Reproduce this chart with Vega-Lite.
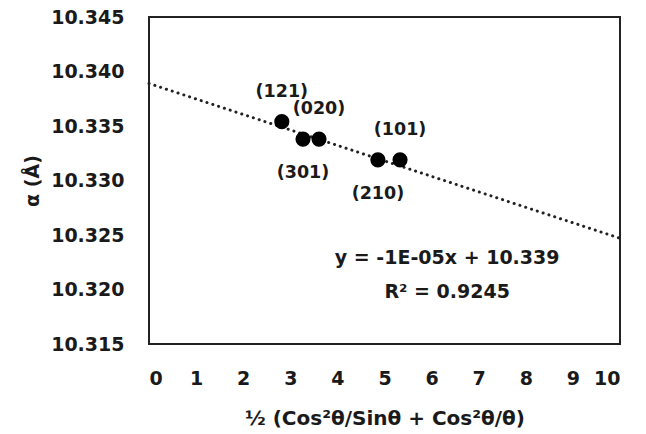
{
  "$schema": "https://vega.github.io/schema/vega-lite/v6.json",
  "autosize": "none",
  "width": 471,
  "height": 327,
  "padding": {"left": 149, "top": 17, "right": 26, "bottom": 90},
  "background": "white",
  "config": {
    "view": {"stroke": "#222222", "strokeWidth": 2},
    "font": "DejaVu Sans",
    "axis": {"grid": false, "ticks": false, "domain": false, "labelFont": "DejaVu Sans", "labelFontWeight": "bold", "labelColor": "#1a1a1a", "titleFont": "DejaVu Sans", "titleFontWeight": "bold", "titleColor": "#1a1a1a"}
  },
  "datasets": {
    "points": [
      {"x": 2.82, "a": 10.3354, "plane": "(121)", "side": "above"},
      {"x": 3.27, "a": 10.3338, "plane": "(301)", "side": "below"},
      {"x": 3.61, "a": 10.3338, "plane": "(020)", "side": "above"},
      {"x": 4.86, "a": 10.3319, "plane": "(210)", "side": "below"},
      {"x": 5.33, "a": 10.3319, "plane": "(101)", "side": "above"}
    ],
    "trend": [
      {"x": 0, "a": 10.3389},
      {"x": 10, "a": 10.3247}
    ],
    "notes": [
      {"x": 6.33, "a": 10.3229, "text": "y = -1E-05x + 10.339"},
      {"x": 6.33, "a": 10.3198, "text": "R² = 0.9245"}
    ]
  },
  "encoding": {
    "x": {"field": "x", "type": "quantitative", "scale": {"domain": [0, 10], "nice": false},
      "axis": {"values": [0,1,2,3,4,5,6,7,8,9,10], "labelFontSize": 19, "labelPadding": 25, "title": "½ (Cos²θ/Sinθ + Cos²θ/θ)", "titleFontSize": 20, "titlePadding": 20}},
    "y": {"field": "a", "type": "quantitative", "scale": {"domain": [10.315, 10.345], "nice": false, "zero": false},
      "axis": {"values": [10.315, 10.32, 10.325, 10.33, 10.335, 10.34, 10.345], "format": ".3f", "labelFontSize": 19, "labelPadding": 25, "title": "α (Å)", "titleFontSize": 19, "titlePadding": 8}}
  },
  "layer": [
    {
      "data": {"name": "trend"},
      "mark": {"type": "line", "color": "#222222", "strokeWidth": 3, "strokeDash": [0.1, 6], "strokeCap": "round"}
    },
    {
      "data": {"name": "points"},
      "mark": {"type": "circle", "size": 230, "color": "#000000", "opacity": 1}
    },
    {
      "data": {"name": "points"},
      "transform": [{"filter": "datum.side == 'above'"}],
      "mark": {"type": "text", "dy": -30, "fontSize": 17.5, "fontWeight": "bold", "color": "#1a1a1a", "font": "DejaVu Sans"},
      "encoding": {"text": {"field": "plane"}}
    },
    {
      "data": {"name": "points"},
      "transform": [{"filter": "datum.side == 'below'"}],
      "mark": {"type": "text", "dy": 34, "fontSize": 17.5, "fontWeight": "bold", "color": "#1a1a1a", "font": "DejaVu Sans"},
      "encoding": {"text": {"field": "plane"}}
    },
    {
      "data": {"name": "notes"},
      "mark": {"type": "text", "fontSize": 19, "fontWeight": "bold", "color": "#1a1a1a", "font": "DejaVu Sans"},
      "encoding": {"text": {"field": "text"}}
    }
  ]
}
